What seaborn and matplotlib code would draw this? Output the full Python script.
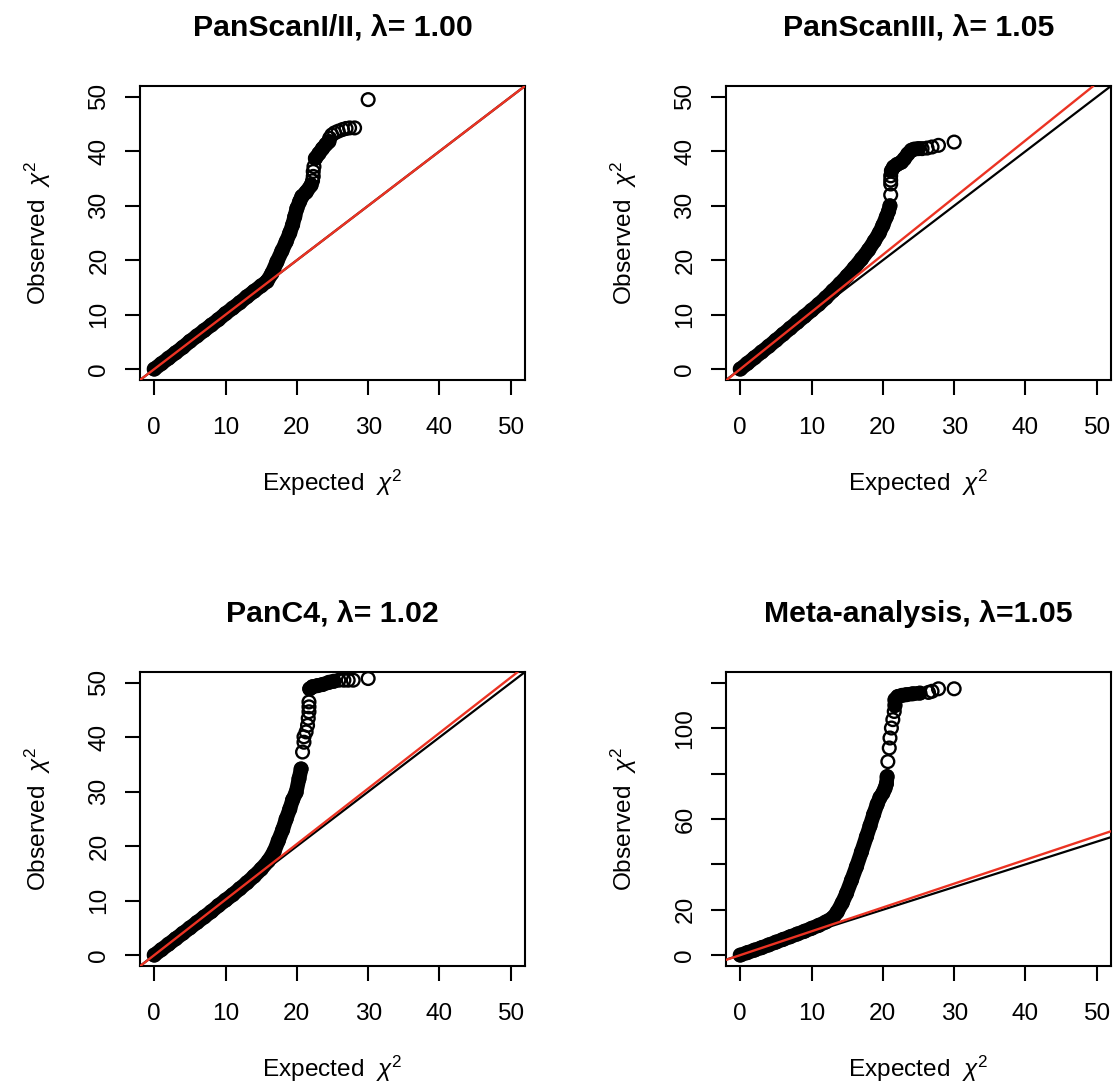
import numpy as np
import pandas as pd
import matplotlib
matplotlib.use("Agg")
import matplotlib.pyplot as plt
import matplotlib.transforms as mtransforms
import seaborn as sns

# ---------------- data ----------------
titles = ["PanScanI/II, \u03bb= 1.00", "PanScanIII, \u03bb= 1.05",
          "PanC4, \u03bb= 1.02", "Meta-analysis, \u03bb=1.05"]
lambdas = [1.00, 1.05, 1.02, 1.05]

p1_x = [0.0, 1.0, 2.0, 3.0, 4.0, 5.0, 6.0, 7.0, 8.0, 9.0, 10.0, 11.0, 12.0, 13.0, 14.0, 15.0,
        15.8, 16.5, 17.2, 17.9, 18.5, 19.0, 19.4, 19.7, 20.0, 20.4, 20.7, 21.3, 22.0, 22.2,
        22.3, 22.3, 22.4, 22.6, 23.1, 23.6, 24.1, 24.5, 24.6, 24.9, 25.3, 25.8, 26.4, 26.9,
        27.4, 28.1, 30.0]
p1_y = [0.0, 1.0, 2.0, 3.0, 4.0, 5.1, 6.1, 7.1, 8.1, 9.1, 10.2, 11.2, 12.2, 13.3, 14.3, 15.3,
        16.1, 17.6, 19.7, 21.7, 23.4, 25.0, 26.5, 28.0, 29.5, 30.8, 31.7, 32.5, 33.8, 34.6,
        35.4, 36.3, 37.2, 38.7, 39.6, 40.5, 41.3, 41.8, 42.4, 43.0, 43.4, 43.7, 44.0, 44.2,
        44.3, 44.3, 49.5]
p1_dense = [(0, 28), (33, 37)]

p2_x = [0.0, 1.0, 2.0, 3.0, 4.0, 5.0, 6.0, 7.0, 8.0, 9.0, 10.0, 11.0, 12.0, 13.0, 14.0, 15.0,
        16.0, 17.0, 18.0, 18.8, 19.5, 20.0, 20.5, 20.8, 21.0, 21.1, 21.1, 21.1, 21.1, 21.2,
        21.5, 22.0, 22.6, 23.0, 23.5, 24.0, 24.4, 25.0, 25.5, 26.2, 26.9, 27.8, 30.0]
p2_y = [0.0, 1.05, 2.1, 3.15, 4.2, 5.3, 6.4, 7.5, 8.6, 9.7, 10.8, 11.9, 13.1, 14.4, 15.7, 17.1,
        18.6, 20.2, 21.9, 23.5, 25.0, 26.4, 28.0, 29.0, 30.0, 32.0, 34.0, 34.7, 35.5, 36.4,
        37.1, 37.6, 38.0, 38.6, 39.5, 40.2, 40.4, 40.5, 40.5, 40.6, 40.8, 41.1, 41.7]
p2_dense = [(0, 24), (29, 37)]

p3_x = [0.0, 1.0, 2.0, 3.0, 4.0, 5.0, 6.0, 7.0, 8.0, 9.0, 10.0, 11.0, 12.0, 13.0, 14.0, 15.0,
        16.0, 16.8, 17.4, 18.0, 18.5, 19.0, 19.4, 19.9, 20.3, 20.6, 20.8, 21.0, 21.0, 21.3,
        21.5, 21.6, 21.7, 21.7, 21.7, 21.8, 22.2, 22.9, 23.6, 24.5, 25.2, 25.9, 26.6, 27.2,
        27.9, 30.0]
p3_y = [0.0, 1.0, 2.0, 3.0, 4.0, 5.0, 6.0, 7.0, 8.0, 9.1, 10.1, 11.1, 12.2, 13.3, 14.5, 15.8,
        17.3, 19.0, 21.0, 23.0, 25.0, 26.8, 28.5, 29.9, 32.4, 34.2, 37.3, 39.1, 40.1, 41.0,
        42.2, 43.5, 44.7, 45.6, 46.5, 48.9, 49.3, 49.5, 49.7, 50.1, 50.3, 50.5, 50.5, 50.5,
        50.5, 50.8]
p3_dense = [(0, 25), (35, 40)]

p4_x = [0.0, 1.0, 2.0, 3.0, 4.0, 5.0, 6.0, 7.0, 8.0, 9.0, 10.0, 11.0, 12.0, 13.0, 13.6, 14.3,
        14.9, 15.6, 16.3, 17.0, 17.7, 18.2, 18.7, 19.2, 19.6, 20.0, 20.3, 20.5, 20.6, 20.7,
        20.9, 21.0, 21.2, 21.4, 21.6, 21.7, 21.7, 22.1, 22.7, 23.3, 24.2, 25.2, 26.4, 26.9,
        27.8, 30.0]
p4_y = [0.0, 1.1, 2.2, 3.3, 4.5, 5.7, 6.9, 8.1, 9.3, 10.5, 11.8, 13.1, 14.6, 16.5, 19.0, 23.0,
        27.2, 33.0, 39.0, 45.5, 52.2, 57.0, 62.0, 66.5, 69.5, 71.4, 73.5, 75.5, 78.7, 85.3,
        91.3, 95.7, 100.1, 103.8, 107.4, 110.0, 112.6, 114.0, 114.5, 114.8, 115.2, 115.5,
        115.8, 116.3, 117.4, 117.4]
p4_dense = [(0, 28), (35, 41)]

x_ticks = [0, 10, 20, 30, 40, 50]
y_ticks_small = [0, 10, 20, 30, 40, 50]
y_ticks_big = [0, 20, 40, 60, 80, 100, 120]
y_ticklabels_big = ["0", "20", "", "60", "", "100", ""]

panels = [
    (p1_x, p1_y, p1_dense, y_ticks_small, [str(v) for v in y_ticks_small], (-2, 52)),
    (p2_x, p2_y, p2_dense, y_ticks_small, [str(v) for v in y_ticks_small], (-2, 52)),
    (p3_x, p3_y, p3_dense, y_ticks_small, [str(v) for v in y_ticks_small], (-2, 52)),
    (p4_x, p4_y, p4_dense, y_ticks_big, y_ticklabels_big, (-4.8, 124.8)),
]

# ---------------- style ----------------
sns.set_theme(style="white")
plt.rcParams['font.family'] = ['Liberation Sans', 'DejaVu Sans']
plt.rcParams['mathtext.fontset'] = 'custom'
plt.rcParams['mathtext.rm'] = 'Liberation Sans'
plt.rcParams['mathtext.it'] = 'Liberation Sans:italic'
plt.rcParams['mathtext.bf'] = 'Liberation Sans:bold'

RED = '#EB3323'
W, H = 1114, 1085
fig = plt.figure(figsize=(W / 100, H / 100), dpi=100)
fig.patch.set_facecolor('white')

boxes = [(140, 86, 525, 380), (726, 86, 1111, 380),
         (140, 672, 525, 966), (726, 672, 1111, 966)]

def off(ax, dx_px, dy_px):
    return ax.transAxes + mtransforms.ScaledTranslation(dx_px / 100, dy_px / 100, fig.dpi_scale_trans)

for i, (xs, ys, dense, yt, ytl, ylim) in enumerate(panels):
    l, t, r, b = boxes[i]
    ax = fig.add_axes([l / W, 1 - b / H, (r - l) / W, (b - t) / H])
    df = pd.DataFrame({'x': xs, 'y': ys})
    for (a, e) in dense:
        seg = df.iloc[a:e + 1]
        sns.lineplot(data=seg, x='x', y='y', sort=False, estimator=None, ax=ax,
                     color='black', linewidth=10.5, solid_capstyle='round',
                     solid_joinstyle='round', legend=False, zorder=2)
    sns.scatterplot(data=df, x='x', y='y', ax=ax, marker='o', s=84, color='black',
                    linewidth=1.7, legend=False, zorder=3)
    coll = ax.collections[-1]
    coll.set_facecolor('none')
    coll.set_edgecolor('black')
    coll.set_linewidth(1.7)

    ax.axline((0, 0), slope=1.0, color='black', lw=1.6, zorder=4)
    ax.axline((0, 0), slope=lambdas[i], color=RED, lw=1.7, zorder=5)

    ax.set_xlim(-2, 52)
    ax.set_ylim(*ylim)
    ax.set_xticks(x_ticks)
    ax.set_xticklabels([str(v) for v in x_ticks])
    ax.set_yticks(yt)
    ax.set_yticklabels(ytl)
    ax.set_xlabel('')
    ax.set_ylabel('')
    ax.tick_params(axis='both', which='major', direction='out', length=10.8, width=1.5,
                   color='black', labelcolor='black', labelsize=17.6,
                   bottom=True, left=True, top=False, right=False)
    ax.tick_params(axis='x', pad=16.2)
    ax.tick_params(axis='y', pad=10.5)
    for lab in ax.get_yticklabels():
        lab.set_rotation(90)
        lab.set_va('center')
    for sp in ax.spines.values():
        sp.set_visible(True)
        sp.set_color('black')
        sp.set_linewidth(1.5)

    ax.text(0.5, 1.0, titles[i], transform=off(ax, 0, 50.3), ha='center', va='baseline',
            fontsize=21.8, fontweight='bold', color='black')
    ax.text(0.5, 0.0, r"Expected  $\chi^{2}$", transform=off(ax, 0, -110.7), ha='center',
            va='baseline', fontsize=17.6, color='black')
    ax.text(0.0, 0.5, r"Observed  $\chi^{2}$", transform=off(ax, -94.5, 0), ha='center',
            va='baseline', rotation=90, rotation_mode='anchor', fontsize=17.6, color='black')

fig.savefig('out.png', dpi=100, facecolor='white')
